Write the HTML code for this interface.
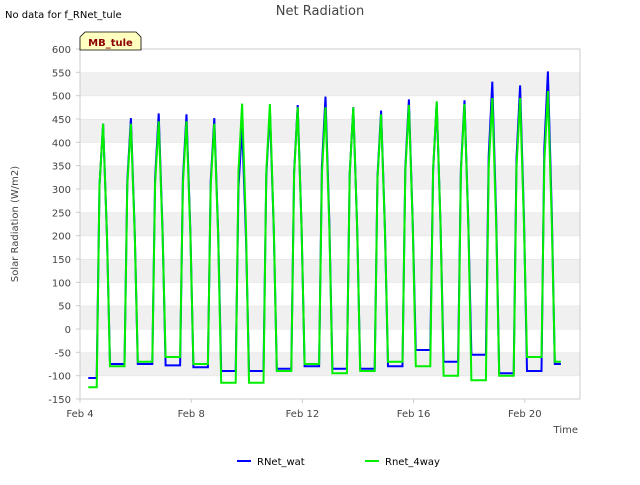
<!DOCTYPE html>
<html><head><meta charset="utf-8"><style>
body{margin:0;width:640px;height:480px;background:#fff;font-family:"Liberation Sans","DejaVu Sans",sans-serif;overflow:hidden}
svg text{font-family:"DejaVu Sans","Liberation Sans",sans-serif}
</style></head><body>
<svg id="chart" width="640" height="480">
<text x="5" y="18" font-size="10" fill="#000">No data for f_RNet_tule</text>
<text x="320" y="15" font-size="13" fill="#444" text-anchor="middle">Net Radiation</text>
<g id="bands"></g>
<rect x="80" y="49" width="500" height="350" fill="none" stroke="#ccc"/>
<g id="yticks"></g><g id="xticks"></g>
<g id="series"></g>
<text x="18" y="224" font-size="10" fill="#444" text-anchor="middle" transform="rotate(-90 18 224)">Solar Radiation (W/m2)</text>
<text x="578" y="433" font-size="10" fill="#444" text-anchor="end">Time</text>
<g>
<path d="M80,50 L80,37 L85,32 L136,32 L141,37 L141,50 Z" fill="#ffffc0" stroke="#000" stroke-width="0.8"/>
<text x="110.5" y="46" font-size="10" font-weight="bold" fill="#8b0000" text-anchor="middle">MB_tule</text>
</g>
<g><line x1="237" y1="461" x2="251" y2="461" stroke="#0000ff" stroke-width="2"/><text x="257" y="465" font-size="10" fill="#000">RNet_wat</text></g>
<g><line x1="365" y1="461" x2="379" y2="461" stroke="#00ee00" stroke-width="2"/><text x="385" y="465" font-size="10" fill="#000">Rnet_4way</text></g>
</svg>
<script>
const yTicks=[-150,-100,-50,0,50,100,150,200,250,300,350,400,450,500,550,600];
const xTickDays=[0,4,8,12,16];
const xTickLabels=["Feb 4","Feb 8","Feb 12","Feb 16","Feb 20"];
const peaksWat=[440,452,462,460,452,435,470,480,498,475,468,492,485,490,530,522,552];
const nightsWat=[-105,-75,-75,-78,-82,-90,-90,-85,-80,-85,-85,-80,-45,-70,-55,-95,-90,-75];
const peaks4way=[440,440,445,445,440,483,482,475,475,475,460,480,488,482,495,495,510];
const nights4way=[-125,-80,-70,-60,-75,-115,-115,-90,-75,-95,-90,-70,-80,-100,-110,-100,-60,-70];
const NS="http://www.w3.org/2000/svg";
const y=v=>329-(v)*350/750;
const x=d=>80+d*27.8;
function mk(t,a,p){const e=document.createElementNS(NS,t);for(const k in a)e.setAttribute(k,a[k]);p.appendChild(e);return e;}
const bands=document.getElementById('bands');
for(let i=0;i<yTicks.length-1;i++){
 const band=mk('rect',{x:80,y:y(yTicks[i+1]),width:500,height:y(yTicks[i])-y(yTicks[i+1]),fill:(i%2===1)?'#f0f0f0':'#fff'},bands);
 
 
 const gl=mk('line',{x1:80,x2:580,y1:y(yTicks[i+1]),y2:y(yTicks[i+1]),stroke:'#ddd','stroke-width':0.8},bands);
 
 
}
const yt=document.getElementById('yticks');
yTicks.forEach(v=>{
 const t=mk('text',{x:71,y:y(v)+4,'font-size':10,fill:'#444','text-anchor':'end'},yt);t.textContent=v;
 
 
 mk('line',{x1:76,x2:80,y1:y(v),y2:y(v),stroke:'#ccc'},yt);
});
const xt=document.getElementById('xticks');
xTickDays.forEach((d,i)=>{
 const t=mk('text',{x:x(d),y:417,'font-size':10,fill:'#444','text-anchor':'middle'},xt);t.textContent=xTickLabels[i];
 
 
 mk('line',{x1:x(d),x2:x(d),y1:399,y2:403,stroke:'#ccc'},xt);
});
function pts(peaks,nights){
 const p=[[0.3,nights[0]]];
 for(let d=0;d<peaks.length;d++){
  p.push([d+0.6,nights[d]]);p.push([d+0.7,peaks[d]*0.7]);p.push([d+0.83,peaks[d]]);
  p.push([d+0.97,peaks[d]*0.45]);p.push([d+1.08,nights[d+1]]);
 }
 p.push([peaks.length+0.3,nights[peaks.length]]);
 return p.map(q=>x(q[0]).toFixed(1)+','+y(q[1]).toFixed(1)).join(' ');
}
const sg=document.getElementById('series');
const l1=mk('polyline',{points:pts(peaksWat,nightsWat),fill:'none',stroke:'#0000ff','stroke-width':2},sg);


const l2=mk('polyline',{points:pts(peaks4way,nights4way),fill:'none',stroke:'#00ee00','stroke-width':2},sg);


</script>
</body></html>
